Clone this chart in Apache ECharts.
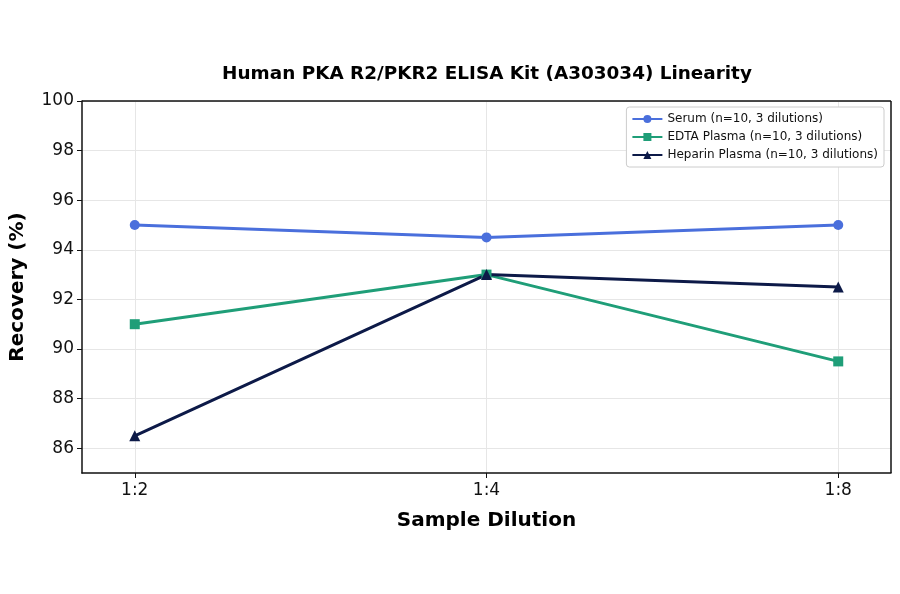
<!DOCTYPE html>
<html>
<head>
    <meta charset="utf-8">
    <title>PKA R2 Linearity</title>
    <script src="https://cdn.jsdelivr.net/npm/echarts@6/dist/echarts.min.js"></script>
    <style>
        html, body { margin: 0; padding: 0; background: #fff; }
        #chart { width: 900px; height: 594px; }
    </style>
</head>
<body>
<div id="chart"></div>
<script type="text/javascript">
    var dilutions = ['1:2', '1:4', '1:8'];
    var serum = [95.0, 94.5, 95.0];
    var edta = [91.0, 93.0, 89.5];
    var heparin = [86.5, 93.0, 92.5];
    var yTicks = [86, 88, 90, 92, 94, 96, 98, 100];

    var font = 'DejaVu Sans';

    function pts(vals) {
        return vals.map(function (v, i) { return [i, v]; });
    }

    var myChart = echarts.init(document.getElementById('chart'));

    var option = {
        backgroundColor: '#fff',
        animation: false,
        title: {
            text: 'Human PKA R2/PKR2 ELISA Kit (A303034) Linearity',
            left: 482, top: 60, textAlign: 'center',
            textStyle: { fontFamily: font, fontSize: 18.4, fontWeight: 'bold', color: '#000' }
        },
        legend: {
            orient: 'vertical',
            right: 16, top: 107,
            itemWidth: 30, itemHeight: 10, itemGap: 6,
            padding: [6, 6, 6, 5],
            borderColor: '#cccccc', borderWidth: 1, borderRadius: 3,
            backgroundColor: '#fff',
            textStyle: { fontFamily: font, fontSize: 12, color: '#111' },
            data: ['Serum (n=10, 3 dilutions)', 'EDTA Plasma (n=10, 3 dilutions)', 'Heparin Plasma (n=10, 3 dilutions)']
        },
        grid: { left: 82, right: 9, top: 101, bottom: 121 },
        xAxis: {
            type: 'value', min: -0.15, max: 2.15,
            name: 'Sample Dilution', nameLocation: 'middle', nameGap: 38,
            nameTextStyle: { fontFamily: font, fontSize: 20, fontWeight: 'bold', color: '#000' },
            axisLine: { onZero: false, lineStyle: { color: '#111', width: 1.5 } },
            axisTick: { customValues: [0, 1, 2], length: 5, lineStyle: { color: '#111' } },
            axisLabel: {
                customValues: [0, 1, 2], margin: 9,
                fontFamily: font, fontSize: 17, color: '#111',
                formatter: function (v) { return dilutions[Math.round(v)]; }
            },
            splitLine: { show: true, customValues: [0, 1, 2], lineStyle: { color: '#e6e6e6', width: 1 } }
        },
        yAxis: {
            type: 'value', min: 85, max: 100,
            name: 'Recovery (%)', nameLocation: 'middle', nameGap: 54,
            nameTextStyle: { fontFamily: font, fontSize: 20, fontWeight: 'bold', color: '#000' },
            axisLine: { show: true, onZero: false, lineStyle: { color: '#111', width: 1.5 } },
            axisTick: { show: true, customValues: yTicks, length: 5, lineStyle: { color: '#111' } },
            axisLabel: { customValues: yTicks, margin: 8, fontFamily: font, fontSize: 17, color: '#111' },
            splitLine: { show: true, customValues: yTicks, lineStyle: { color: '#e6e6e6', width: 1 } }
        },
        series: [
            {
                name: 'Serum (n=10, 3 dilutions)', type: 'line',
                data: pts(serum), symbol: 'circle', symbolSize: 10,
                itemStyle: { color: '#4a6fdc' }, lineStyle: { width: 3, color: '#4a6fdc' }
            },
            {
                name: 'EDTA Plasma (n=10, 3 dilutions)', type: 'line',
                data: pts(edta), symbol: 'rect', symbolSize: 10,
                itemStyle: { color: '#1f9e78' }, lineStyle: { width: 3, color: '#1f9e78' }
            },
            {
                name: 'Heparin Plasma (n=10, 3 dilutions)', type: 'line',
                data: pts(heparin), symbol: 'triangle', symbolSize: 11,
                itemStyle: { color: '#0d1a48' }, lineStyle: { width: 3, color: '#0d1a48' }
            },
            {
                // top and right frame of the plot box
                type: 'line', silent: true, data: [], legendHoverLink: false,
                markLine: {
                    silent: true, symbol: 'none', label: { show: false },
                    lineStyle: { color: '#111', width: 1.5, type: 'solid' },
                    data: [[{ coord: [-0.15, 100] }, { coord: [2.15, 100] }],
                           [{ coord: [2.15, 85] }, { coord: [2.15, 100] }]]
                }
            }
        ]
    };

    myChart.setOption(option);
</script>
</body>
</html>
